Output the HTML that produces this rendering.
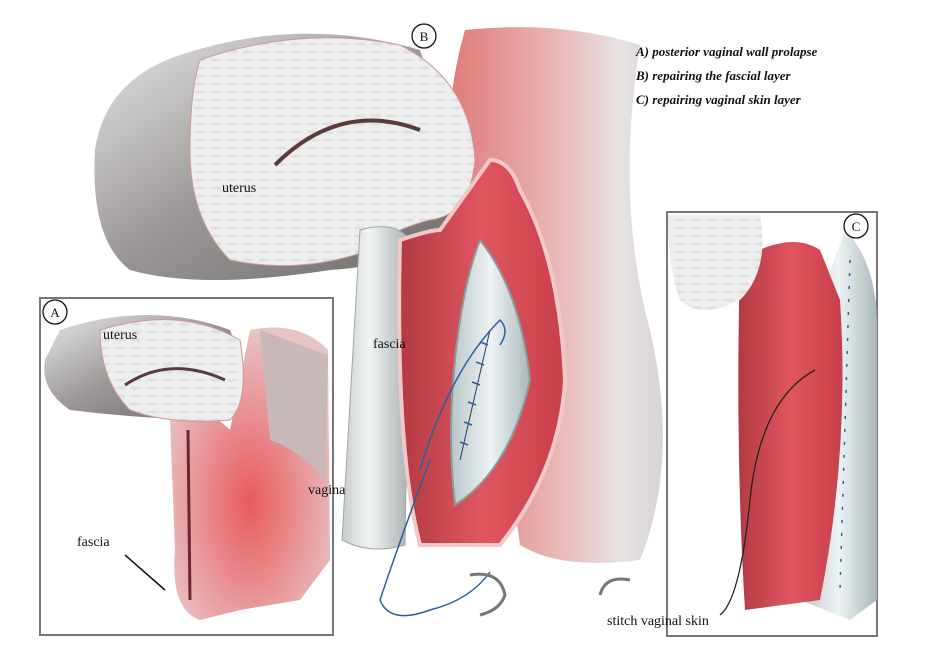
<!DOCTYPE html>
<html><head><meta charset="utf-8"><style>
html,body{margin:0;padding:0;background:#fff;}
svg{display:block;}
text{font-family:"Liberation Serif",serif;fill:#111;}
</style></head><body>
<svg width="925" height="663" viewBox="0 0 925 663" xmlns="http://www.w3.org/2000/svg">
<defs>
<linearGradient id="cyl" x1="0" y1="0" x2="1" y2="1">
<stop offset="0" stop-color="#e6e6e6"/><stop offset="0.5" stop-color="#9a9595"/><stop offset="1" stop-color="#6e6868"/></linearGradient>
<linearGradient id="pinkg" x1="0" y1="0" x2="1" y2="0">
<stop offset="0" stop-color="#e07a7a"/><stop offset="0.45" stop-color="#e8b0ae"/><stop offset="0.8" stop-color="#e7e2e2"/><stop offset="1" stop-color="#d8d4d4"/></linearGradient>
<linearGradient id="redg" x1="0" y1="0" x2="1" y2="0">
<stop offset="0" stop-color="#b23a42"/><stop offset="0.5" stop-color="#e05560"/><stop offset="1" stop-color="#c8404a"/></linearGradient>
<linearGradient id="fasg" x1="0" y1="0" x2="1" y2="0">
<stop offset="0" stop-color="#c9cccc"/><stop offset="0.4" stop-color="#f2f4f4"/><stop offset="1" stop-color="#a8aeae"/></linearGradient>
<linearGradient id="blueg" x1="0" y1="0" x2="1" y2="0">
<stop offset="0" stop-color="#b9c6c8"/><stop offset="0.5" stop-color="#eef3f4"/><stop offset="1" stop-color="#a9b8ba"/></linearGradient>
<radialGradient id="redr" cx="0.5" cy="0.6" r="0.6">
<stop offset="0" stop-color="#e85a5e"/><stop offset="1" stop-color="#e9c4c4"/></radialGradient>
<pattern id="tex" width="16" height="8" patternUnits="userSpaceOnUse">
<rect width="16" height="8" fill="#eeeeee"/><ellipse cx="8" cy="4" rx="6" ry="1.6" fill="#e0e0e0"/></pattern>
</defs>

<path d="M465 30 Q560 20 640 45 Q615 200 650 330 Q680 460 640 560 Q560 570 520 545 Q500 400 470 300 Q430 150 465 30Z" fill="url(#pinkg)"/>

<path d="M180 55 Q300 15 420 50 L470 200 Q430 265 330 270 Q200 290 130 270 Q90 240 95 150 Q105 80 180 55Z" fill="url(#cyl)"/>
<path d="M200 60 Q300 25 400 45 Q470 80 475 160 Q470 215 430 220 Q390 230 370 250 Q300 275 230 260 Q190 220 190 150 Q190 90 200 60Z" fill="url(#tex)" stroke="#c99" stroke-width="1"/>
<path d="M275 165 Q340 100 420 130" stroke="#5a3a3a" stroke-width="4" fill="none"/>

<path d="M360 230 Q395 220 410 240 L405 545 Q370 555 342 540 Q350 400 360 230Z" fill="url(#fasg)" stroke="#9aa" stroke-width="1"/>

<path d="M400 240 Q430 230 440 230 L490 160 Q510 160 520 190 Q560 260 565 380 Q560 470 500 545 L420 545 Q395 450 400 240Z" fill="url(#redg)" stroke="#f0c8c8" stroke-width="4"/>
<path d="M480 240 Q520 290 530 380 Q510 470 455 505 Q445 420 460 320 Q468 270 480 240Z" fill="url(#blueg)" stroke="#8a9a9a" stroke-width="2"/>
<path d="M490 330 L460 460" stroke="#336" stroke-width="1"/>
<path d="M488 345 l-8 -3 M484 365 l-8 -3 M480 385 l-8 -3 M476 405 l-8 -3 M472 425 l-8 -3 M468 445 l-8 -3" stroke="#2a5fa0" stroke-width="1.5"/>
<path d="M420 470 Q450 370 500 320 Q510 330 500 345" stroke="#2a5fa0" stroke-width="1.5" fill="none"/>
<path d="M430 460 Q400 540 380 600 Q390 625 430 610 Q470 600 490 572" stroke="#2a5fa0" stroke-width="1.5" fill="none"/>
<path d="M470 575 Q500 570 505 595 Q500 610 480 615" stroke="#777" stroke-width="3" fill="none"/>

<rect x="40" y="298" width="293" height="337" fill="#fff" stroke="#777" stroke-width="2"/>
<path d="M250 330 Q300 320 328 350 L330 560 L300 600 L240 610 L200 620 Q170 610 175 550 L170 420 Q200 400 230 430 Z" fill="url(#redr)"/>
<path d="M260 330 L328 355 L325 480 Q300 450 270 440 Z" fill="#c8b8b8"/>
<path d="M60 330 Q150 300 230 330 Q250 380 230 420 Q150 420 70 410 Q40 390 45 360Z" fill="url(#cyl)"/>
<path d="M100 330 Q180 305 240 340 Q250 400 230 420 Q170 425 130 410 Q100 380 100 330Z" fill="url(#tex)" stroke="#c99"/>
<path d="M125 385 Q170 355 225 380" stroke="#5a3a3a" stroke-width="3" fill="none"/>
<path d="M188 430 L190 600" stroke="#6b2a2a" stroke-width="3"/>
<path d="M125 555 L165 590" stroke="#111" stroke-width="1.5"/>
<circle cx="55" cy="312" r="12" fill="#fff" stroke="#111" stroke-width="1.3"/>
<text x="55" y="317" font-size="13" text-anchor="middle">A</text>
<text x="103" y="339" font-size="14">uterus</text>
<text x="308" y="494" font-size="14">vagina</text>
<text x="77" y="546" font-size="14">fascia</text>

<rect x="667" y="212" width="210" height="424" fill="#fff" stroke="#777" stroke-width="2"/>
<path d="M845 230 Q875 260 877 320 L877 600 L850 620 L800 600 Q820 450 820 300Z" fill="url(#blueg)"/>
<path d="M740 260 Q790 230 820 250 L840 300 Q850 450 820 600 L745 610 Q735 450 740 260Z" fill="url(#redg)"/>
<path d="M668 215 L760 215 Q770 270 740 300 Q700 320 680 300 Q668 270 668 215Z" fill="url(#tex)"/>
<path d="M850 260 L840 590" stroke="#2a5fa0" stroke-width="1.5" stroke-dasharray="3 10"/>
<path d="M815 370 Q760 400 750 500 Q740 600 720 615" stroke="#222" stroke-width="1.3" fill="none"/>
<path d="M600 595 Q605 575 630 580" stroke="#777" stroke-width="3" fill="none"/>
<circle cx="856" cy="226" r="12" fill="#fff" stroke="#111" stroke-width="1.3"/>
<text x="856" y="231" font-size="13" text-anchor="middle">C</text>

<circle cx="424" cy="36" r="12" fill="#fff" stroke="#111" stroke-width="1.3"/>
<text x="424" y="41" font-size="13" text-anchor="middle">B</text>
<text x="222" y="192" font-size="14">uterus</text>
<text x="373" y="348" font-size="14">fascia</text>
<text x="607" y="625" font-size="14">stitch vaginal skin</text>
<g font-size="13" font-weight="bold" font-style="italic">
<text x="636" y="56">A) posterior vaginal wall prolapse</text>
<text x="636" y="80">B) repairing the fascial layer</text>
<text x="636" y="104">C) repairing vaginal skin layer</text>
</g>
</svg>
</body></html>
